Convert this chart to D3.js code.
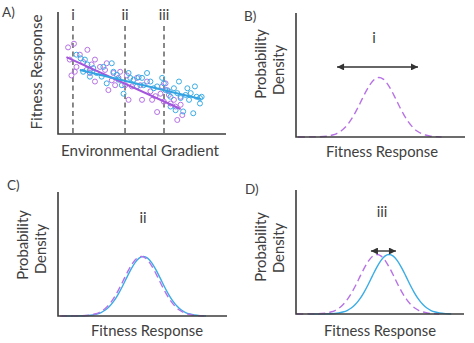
<!DOCTYPE html>
<html><head><meta charset="utf-8">
<script src="https://cdn.jsdelivr.net/npm/d3@7"></script>
<style>
body{margin:0;background:#fff}
text{font-family:Lato,"Open Sans",sans-serif;fill:#404040}
</style>
</head><body>
<svg id="c" width="474" height="343"></svg>
<script>
// ---- Panel A: scatter data (environmental gradient vs fitness response) ----
const purpleX=[0.6,0.95,0.7,0.8,1.1,1.0,1.3,1.75,1.5,1.7,2.0,1.9,2.2,2.2,2.5,2.8,2.9,3.0,3.2,3.3,3.4,3.7,3.6,4.1,4.2,4.0,4.4,4.7,4.9,5.0,5.3,5.5,5.6,5.8,5.9,6.1,6.2,6.4,6.3,6.6,6.7,6.9,7.0,7.1,7.3,7.4,7.3,6.5];
const purpleY=[7.1,7.4,6.1,4.8,5.5,5.1,6.5,6.9,5.9,5.25,5.7,5.0,6.1,4.3,5.5,5.25,5.8,3.6,4.4,5.0,4.0,5.1,4.6,4.8,2.8,4.0,3.9,4.6,4.0,2.8,4.3,3.5,2.8,3.1,1.8,3.3,3.9,4.15,2.65,3.2,2.5,2.8,2.25,1.15,2.4,1.55,3.05,3.6];
const blueX=[1.1,1.35,1.5,1.6,1.75,1.9,1.9,2.1,2.3,2.6,2.7,2.9,3.2,3.3,3.5,3.6,3.8,3.9,4.2,4.3,4.5,4.7,4.8,5.0,5.3,5.1,5.5,5.7,5.9,6.2,6.3,6.4,6.6,6.7,6.9,7.2,7.1,7.3,7.6,7.8,7.7,7.9,8.15,8.25,8.45,8.55,8.45,8.05,7.45,6.7,7.0];
const blueY=[6.5,6.2,5.1,6.1,5.7,4.7,5.25,5.4,5.0,4.7,5.5,4.15,5.8,5.1,4.85,4.45,4.0,3.3,5.0,4.6,4.45,3.9,4.65,4.6,5.0,4.0,4.3,3.75,3.9,4.6,4.15,3.6,3.5,3.05,3.75,4.3,3.35,2.95,3.2,2.8,3.75,3.35,3.9,3.05,2.95,3.05,2.5,1.7,1.85,2.25,1.95];
const purpleFit=[[0.5,6.3],[7.3,2.05]];
const blueFit=[[1.3,5.25],[8.5,2.87]];
const gradientMarks=["i","ii","iii"];
const gradientMarkX=[0.89,3.99,6.31];

// ---- Panels B-D: probability density curves (offset from mean, density) ----
const densityOffsets=[-4.8,-3.5,-3.0,-2.75,-2.5,-2.25,-2.0,-1.75,-1.5,-1.25,-1.0,-0.75,-0.5,-0.25,0,0.25,0.5,0.75,1.0,1.25,1.5,1.75,2.0,2.25,2.5,2.75,3.0,3.5,3.7];
const densityValues=[0,0.002,0.008,0.016,0.028,0.048,0.078,0.12,0.173,0.236,0.305,0.372,0.429,0.467,0.48,0.467,0.429,0.372,0.305,0.236,0.173,0.12,0.078,0.048,0.028,0.016,0.008,0.002,0];
const meansB=[4.91];          // purple only (i)
const meansC=[4.93,5.05];     // purple, blue (ii)
const meansD=[4.82,5.54];     // purple, blue (iii)
const arrowB=[2.43,7.22,0.565];
const arrowD=[4.46,5.95,0.508];

const PURPLE="#b672e6", BLUE="#3aace6", PURPLE_LINE="#a455dc", BLUE_LINE="#33a3e2", AXIS="#3c3c3c";
const FS=14.8;

const svg=d3.select("#c");
const defs=svg.append("defs");
["s","e"].forEach(k=>{
  defs.append("marker").attr("id","ar"+k).attr("viewBox","0 0 10 10")
    .attr("refX",k==="e"?10:0).attr("refY",5).attr("markerWidth",9).attr("markerHeight",7)
    .attr("markerUnits","userSpaceOnUse").attr("orient","auto")
    .append("path").attr("d",k==="e"?"M0,0L10,5L0,10Z":"M10,0L0,5L10,10Z").attr("fill","#333");
});

function axes(g,x0,x1,y0,y1){
  g.append("path").attr("d",`M${x0},${y0}V${y1}H${x1}`).attr("fill","none")
   .attr("stroke",AXIS).attr("stroke-width",1.6);
}

// ---- Panel A ----
{
  const x0=58,x1=226,y0=12,y1=134;
  const xs=d3.scaleLinear().domain([0,10]).range([x0,x1]);
  const ys=d3.scaleLinear().domain([0,10]).range([y1,y0]);
  const g=svg.append("g");
  svg.append("text").attr("x",2).attr("y",17).attr("font-size",13.5).text("A)");
  gradientMarkX.forEach((v,i)=>{
    g.append("line").attr("x1",xs(v)).attr("x2",xs(v)).attr("y1",26).attr("y2",y1)
      .attr("stroke","#4a4a4a").attr("stroke-width",1.3).attr("stroke-dasharray","5,3.5");
    g.append("text").attr("x",xs(v)).attr("y",20).attr("text-anchor","middle")
      .attr("font-size",FS).text(gradientMarks[i]);
  });
  g.selectAll(".pp").data(purpleX).enter().append("circle")
    .attr("cx",d=>xs(d)).attr("cy",(d,i)=>ys(purpleY[i])).attr("r",2.5)
    .attr("fill","none").attr("stroke",PURPLE).attr("stroke-width",1);
  g.selectAll(".bp").data(blueX).enter().append("circle")
    .attr("cx",d=>xs(d)).attr("cy",(d,i)=>ys(blueY[i])).attr("r",2.5)
    .attr("fill","none").attr("stroke",BLUE).attr("stroke-width",1);
  const line=d3.line().x(d=>xs(d[0])).y(d=>ys(d[1]));
  g.append("path").attr("d",line(purpleFit)).attr("stroke",PURPLE_LINE).attr("stroke-width",2).attr("fill","none");
  g.append("path").attr("d",line(blueFit)).attr("stroke",BLUE_LINE).attr("stroke-width",2).attr("fill","none");
  axes(g,x0,x1,y0,y1);
  g.append("text").attr("transform",`translate(42,72) rotate(-90)`).attr("text-anchor","middle")
    .attr("font-size",15.2).text("Fitness Response");
  g.append("text").attr("x",140).attr("y",156).attr("text-anchor","middle")
    .attr("font-size",15.2).text("Environmental Gradient");
}

function densityPanel(o){
  const xs=d3.scaleLinear().domain([0,10]).range([o.x0,o.x1]);
  const ys=d3.scaleLinear().domain([0,1]).range([o.y1,o.y0]);
  const g=svg.append("g");
  svg.append("text").attr("x",o.lx).attr("y",o.ly).attr("font-size",13.5).text(o.label);
  const line=d3.line().x(d=>xs(d[0])).y(d=>ys(d[1])).curve(d3.curveMonotoneX);
  o.means.slice().reverse().forEach((m,ri)=>{
    const idx=o.means.length-1-ri;
    const pts=densityOffsets.map((d,i)=>[m+d,densityValues[i]]);
    const p=g.append("path").attr("d",line(pts)).attr("fill","none").attr("stroke-width",1.4);
    if(idx===0) p.attr("stroke",PURPLE).attr("stroke-dasharray","7,4");
    else p.attr("stroke",BLUE);
  });
  axes(g,o.x0,o.x1,o.y0,o.y1);
  if(o.arrow){
    g.append("line").attr("x1",xs(o.arrow[0])).attr("x2",xs(o.arrow[1]))
      .attr("y1",ys(o.arrow[2])).attr("y2",ys(o.arrow[2]))
      .attr("stroke","#333").attr("stroke-width",1.4)
      .attr("marker-start","url(#ars)").attr("marker-end","url(#are)");
  }
  g.append("text").attr("x",o.mx).attr("y",o.my).attr("text-anchor","middle").attr("font-size",FS).text(o.mark);
  g.append("text").attr("transform",`translate(${o.px1},${o.py1}) rotate(-90)`).attr("text-anchor","middle")
    .attr("font-size",FS).text("Probability");
  g.append("text").attr("transform",`translate(${o.px2},${o.py2}) rotate(-90)`).attr("text-anchor","middle")
    .attr("font-size",FS).text("Density");
  g.append("text").attr("x",o.fx).attr("y",o.fy).attr("text-anchor","middle").attr("font-size",FS).text("Fitness Response");
}

densityPanel({x0:296,x1:465,y0:13,y1:137,means:meansB,arrow:arrowB,label:"B)",lx:244,ly:21,
  mark:"i",mx:374,my:43,px1:266,py1:64,px2:284,py2:70,fx:382,fy:157});
densityPanel({x0:58,x1:227,y0:192,y1:316,means:meansC,arrow:null,label:"C)",lx:7,ly:190,
  mark:"ii",mx:143,my:223,px1:28,py1:245,px2:46,py2:249,fx:147,fy:336});
densityPanel({x0:296,x1:464,y0:190,y1:314,means:meansD,arrow:arrowD,label:"D)",lx:245,ly:194,
  mark:"iii",mx:382,my:217,px1:266,py1:247,px2:284,py2:248,fx:380,fy:336});
</script>
</body></html>
